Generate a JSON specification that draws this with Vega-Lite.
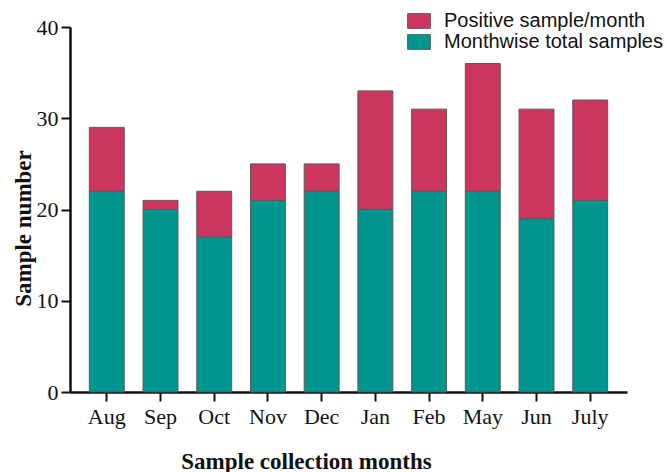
{
  "$schema": "https://vega.github.io/schema/vega-lite/v6.json",
  "width": 557,
  "height": 365,
  "autosize": {"type": "none"},
  "padding": {"left": 70, "top": 27, "right": 39, "bottom": 80},
  "background": "white",
  "data": {
    "values": [
      {"month": "Aug", "series": "Monthwise total samples", "value": 22},
      {"month": "Aug", "series": "Positive sample/month", "value": 7},
      {"month": "Sep", "series": "Monthwise total samples", "value": 20},
      {"month": "Sep", "series": "Positive sample/month", "value": 1},
      {"month": "Oct", "series": "Monthwise total samples", "value": 17},
      {"month": "Oct", "series": "Positive sample/month", "value": 5},
      {"month": "Nov", "series": "Monthwise total samples", "value": 21},
      {"month": "Nov", "series": "Positive sample/month", "value": 4},
      {"month": "Dec", "series": "Monthwise total samples", "value": 22},
      {"month": "Dec", "series": "Positive sample/month", "value": 3},
      {"month": "Jan", "series": "Monthwise total samples", "value": 20},
      {"month": "Jan", "series": "Positive sample/month", "value": 13},
      {"month": "Feb", "series": "Monthwise total samples", "value": 22},
      {"month": "Feb", "series": "Positive sample/month", "value": 9},
      {"month": "May", "series": "Monthwise total samples", "value": 22},
      {"month": "May", "series": "Positive sample/month", "value": 14},
      {"month": "Jun", "series": "Monthwise total samples", "value": 19},
      {"month": "Jun", "series": "Positive sample/month", "value": 12},
      {"month": "July", "series": "Monthwise total samples", "value": 21},
      {"month": "July", "series": "Positive sample/month", "value": 11}
    ]
  },
  "mark": {"type": "bar", "stroke": "#5a5a5a", "strokeWidth": 1},
  "encoding": {
    "x": {
      "field": "month",
      "type": "nominal",
      "sort": ["Aug", "Sep", "Oct", "Nov", "Dec", "Jan", "Feb", "May", "Jun", "July"],
      "scale": {"paddingInner": 0.35, "paddingOuter": 0.36},
      "axis": {
        "title": "Sample collection months",
        "labelAngle": 0,
        "labelFont": "Liberation Serif",
        "labelFontSize": 22,
        "labelColor": "#111",
        "labelPadding": 5,
        "tickSize": 9,
        "tickWidth": 2,
        "tickColor": "#111",
        "domainColor": "#111",
        "domainWidth": 2.5,
        "titleFont": "Liberation Serif",
        "titleFontSize": 23,
        "titleFontWeight": "bold",
        "titleColor": "#111",
        "titleX": 236,
        "titleY": 69,
        "titleAlign": "center",
        "titleBaseline": "middle"
      }
    },
    "y": {
      "field": "value",
      "type": "quantitative",
      "stack": "zero",
      "scale": {"domain": [0, 40], "nice": false},
      "axis": {
        "title": "Sample number",
        "values": [0, 10, 20, 30, 40],
        "grid": false,
        "labelFont": "Liberation Serif",
        "labelFontSize": 22,
        "labelColor": "#111",
        "labelPadding": 3,
        "tickSize": 9,
        "tickWidth": 2,
        "tickColor": "#111",
        "domainColor": "#111",
        "domainWidth": 2.5,
        "titleFont": "Liberation Serif",
        "titleFontSize": 23,
        "titleFontWeight": "bold",
        "titleColor": "#111",
        "titleX": -47,
        "titleY": 201,
        "titleAlign": "center",
        "titleBaseline": "middle"
      }
    },
    "color": {
      "field": "series",
      "type": "nominal",
      "scale": {
        "domain": ["Positive sample/month", "Monthwise total samples"],
        "range": ["#CB355E", "#00958F"]
      },
      "legend": {
        "title": null,
        "orient": "none",
        "legendX": 338.5,
        "legendY": -16.5,
        "padding": 0,
        "symbolType": "M-1.15,-0.75H1.15V0.75H-1.15Z",
        "symbolSize": 400,
        "symbolStrokeColor": "#555",
        "symbolStrokeWidth": 0.8,
        "symbolOpacity": 1,
        "labelFont": "Liberation Sans",
        "labelFontSize": 20,
        "labelLimit": 400,
        "labelColor": "#111",
        "labelOffset": 14.5,
        "rowPadding": 0
      }
    },
    "order": {"field": "series", "sort": "ascending"}
  },
  "config": {"view": {"stroke": null}}
}
